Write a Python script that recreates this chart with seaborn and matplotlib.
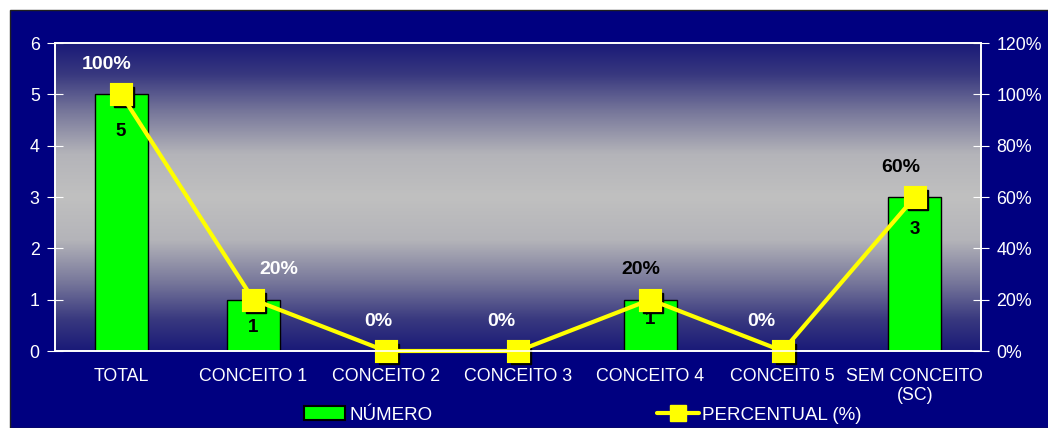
import matplotlib
matplotlib.use('Agg')
import matplotlib.pyplot as plt
from matplotlib.colors import LinearSegmentedColormap
from matplotlib.patches import Rectangle
from matplotlib.lines import Line2D
from matplotlib.transforms import offset_copy
import seaborn as sns
import numpy as np

# Data
categories = ['TOTAL', 'CONCEITO 1', 'CONCEITO 2', 'CONCEITO 3',
              'CONCEITO 4', 'CONCEIT0 5', 'SEM CONCEITO\n(SC)']
numero = [5, 1, 0, 0, 1, 0, 3]
percentual = [100, 20, 0, 0, 20, 0, 60]
pct_labels = ['100%', '20%', '0%', '0%', '20%', '0%', '60%']
left_ticks = [0, 1, 2, 3, 4, 5, 6]
right_ticks = [0, 20, 40, 60, 80, 100, 120]

# label placement / colours (style only)
pct_dx = [-15, 25, -7, -17, -9, -21, -14]
pct_colors = ['white', 'white', 'white', 'white', 'black', 'white', 'black']
num_dy = [-37, -28, 0, 0, -20, 0, -32]

NAVY = '#000080'
GREEN = '#00FF00'
YELLOW = '#FFFF00'

sns.set_style('white')
plt.rcParams['font.family'] = ['Liberation Sans', 'DejaVu Sans']

fig = plt.figure(figsize=(10.48, 4.28), dpi=100)
fig.patch.set_facecolor('white')
fig.patches.append(Rectangle((10 / 1048, 0), 1, 1 - 10 / 428, transform=fig.transFigure,
                             facecolor=NAVY, edgecolor='#202020', linewidth=1, zorder=-10))

ax = fig.add_axes([55 / 1048, 1 - 351 / 428, (981 - 55) / 1048, (351 - 43) / 428])
ax.set_facecolor('none')

# gradient background: navy - silver - navy
cmap = LinearSegmentedColormap.from_list(
    'grad', [(0, '#1a1a78'), (0.1, '#38387f'), (0.22, '#76769a'), (0.36, '#b4b4b9'),
             (0.5, '#c0c0c0'), (0.64, '#b4b4b9'), (0.78, '#76769a'), (0.9, '#38387f'),
             (1, '#1a1a78')])
grad = np.linspace(0, 1, 256).reshape(-1, 1)
ax.imshow(grad, cmap=cmap, aspect='auto', extent=[0, 1, 0, 1], origin='lower',
          transform=ax.transAxes, zorder=0)

sns.barplot(x=categories, y=numero, ax=ax, color=GREEN, edgecolor='black',
            linewidth=1, width=0.4, saturation=1, zorder=2)

for i, v in enumerate(numero):
    if v > 0:
        ax.annotate(str(v), (i, v), xytext=(0, num_dy[i]), textcoords='offset pixels',
                    ha='center', va='center', fontsize=13.5, fontweight='bold',
                    color='black', zorder=3)

ax.set_ylim(0, 6)
ax.set_xlim(-0.5, len(categories) - 0.5)
ax.set_yticks(left_ticks)
ax.set_yticklabels([str(t) for t in left_ticks])
ax.set_xticks(range(len(categories)))
ax.set_xticklabels(categories)
ax.set_xticks(np.arange(-0.5, len(categories), 1.0), minor=True)
ax.tick_params(axis='x', which='major', length=0, pad=12, colors='white', labelsize=12.8)
ax.tick_params(axis='x', which='minor', direction='inout', length=12, color='white', width=1)
ax.tick_params(axis='y', direction='inout', length=12, colors='white', labelsize=12.8, pad=5, left=True)
ax.set_xlabel('')
ax.set_ylabel('')
for s in ax.spines.values():
    s.set_color('white')
    s.set_linewidth(1.2)

ax2 = ax.twinx()
ax2.set_facecolor('none')
x_pos = np.arange(len(categories))
# marker shadows
ax2.plot(x_pos, percentual, 's', color='black', markersize=14, clip_on=False,
         transform=offset_copy(ax2.transData, fig=fig, x=3, y=-3, units='dots'), zorder=1)
sns.pointplot(x=categories, y=percentual, ax=ax2, color=YELLOW, markers='s',
              markersize=14, linewidth=3, zorder=2)
for ln in ax2.lines:
    ln.set_clip_on(False)

for i, (v, lab) in enumerate(zip(percentual, pct_labels)):
    ax2.annotate(lab, (i, v), xytext=(pct_dx[i], 30), textcoords='offset pixels',
                 ha='center', va='center', fontsize=14, fontweight='bold',
                 color=pct_colors[i], zorder=4)

ax2.set_ylim(0, 120)
ax2.set_xlim(-0.5, len(categories) - 0.5)
ax2.set_yticks(right_ticks)
ax2.set_yticklabels([f'{t}%' for t in right_ticks])
ax2.tick_params(axis='y', direction='inout', length=12, colors='white', labelsize=12.8, pad=5, right=True)
ax2.set_xlabel('')
ax2.set_ylabel('')
for s in ax2.spines.values():
    s.set_color('white')
    s.set_linewidth(1.2)

handles = [Rectangle((0, 0), 1, 1, facecolor=GREEN, edgecolor='black', linewidth=1.5),
           Line2D([], [], color=YELLOW, linewidth=3, marker='s', markersize=11)]
leg = fig.legend(handles, ['NÚMERO', 'PERCENTUAL (%)'], loc='center', ncol=2,
                 bbox_to_anchor=(583 / 1048, 1 - 415 / 428), frameon=False,
                 fontsize=13.5, labelcolor='white', handlelength=2.2,
                 columnspacing=12.0, handletextpad=0.2)

fig.savefig('out.png', dpi=100, facecolor=fig.get_facecolor())
